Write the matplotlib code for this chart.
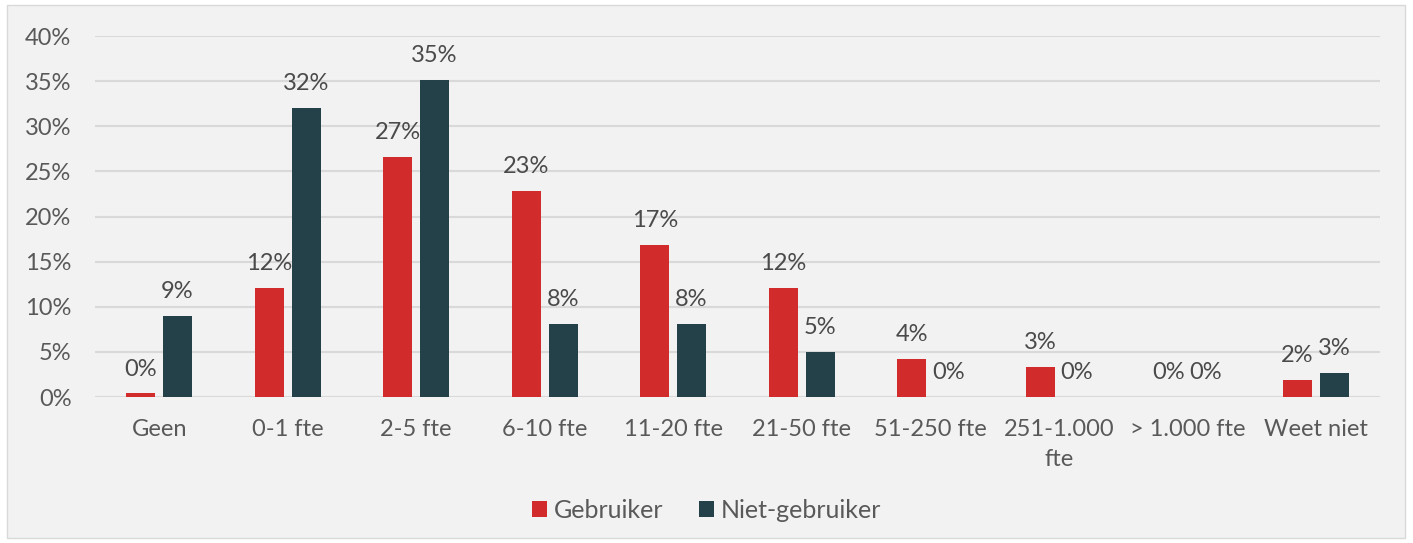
import matplotlib.pyplot as plt
from matplotlib.patches import Rectangle
import numpy as np

# Bedrijfsgrootte per groep (percentages)
categories = ["Geen", "0-1 fte", "2-5 fte", "6-10 fte", "11-20 fte", "21-50 fte",
              "51-250 fte", "251-1.000\nfte", "> 1.000 fte", "Weet niet"]
gebruiker = [0.4, 12.1, 26.6, 22.8, 16.8, 12.1, 4.2, 3.3, 0.0, 1.9]
niet_gebruiker = [9.0, 32.0, 35.1, 8.1, 8.1, 5.0, 0.0, 0.0, 0.0, 2.7]
series_names = ["Gebruiker", "Niet-gebruiker"]

RED = "#d22b2b"
DARK = "#24414a"
TEXT = "#595959"
FS = 17

plt.rcParams["font.family"] = ["Lato", "DejaVu Sans"]

fig = plt.figure(figsize=(14.13, 5.43), dpi=100, facecolor="white")
# grijze achtergrond met dunne rand
fig.patches.append(Rectangle((7 / 1413, 5 / 543), 1398 / 1413, 533 / 543,
                             transform=fig.transFigure, facecolor="#f2f2f2",
                             edgecolor="#d9d9d9", linewidth=1, zorder=-10))
ax = fig.add_axes([95 / 1413, 146 / 543, 1285 / 1413, 361 / 543])
ax.set_facecolor("none")

x = np.arange(len(categories))
w = 0.225
gap = 0.06
b1 = ax.bar(x - (w + gap) / 2, gebruiker, w, color=RED, label=series_names[0], zorder=3)
b2 = ax.bar(x + (w + gap) / 2, niet_gebruiker, w, color=DARK, label=series_names[1], zorder=3)

for bars, vals in [(b1, gebruiker), (b2, niet_gebruiker)]:
    for bar, v in zip(bars, vals):
        ax.annotate(f"{v:.0f}%", (bar.get_x() + bar.get_width() / 2, v),
                    xytext=(0, 10), textcoords="offset points",
                    ha="center", va="bottom", fontsize=FS, color="#4a4a4a")

ax.set_xlim(-0.5, len(categories) - 0.5)
ax.set_ylim(0, 40)
ax.set_yticks(range(0, 41, 5))
ax.set_yticklabels([f"{t}%" for t in range(0, 41, 5)])
ax.set_xticks(x)
ax.set_xticklabels(categories, linespacing=1.5)
ax.tick_params(axis="both", length=0, labelsize=FS, labelcolor=TEXT)
ax.tick_params(axis="x", pad=16)
ax.tick_params(axis="y", pad=17)
ax.grid(axis="y", color="#d9d9d9", linewidth=1.5, zorder=0)
for s in ax.spines.values():
    s.set_visible(False)

leg = fig.legend(handles=[b1, b2], loc="center", bbox_to_anchor=(0.5, 33 / 543),
                 ncol=2, frameon=False, fontsize=18, handlelength=0.6,
                 handleheight=0.6, handletextpad=0.3, columnspacing=1.4)
for t in leg.get_texts():
    t.set_color(TEXT)

fig.savefig("out.png", dpi=100, facecolor=fig.get_facecolor())
